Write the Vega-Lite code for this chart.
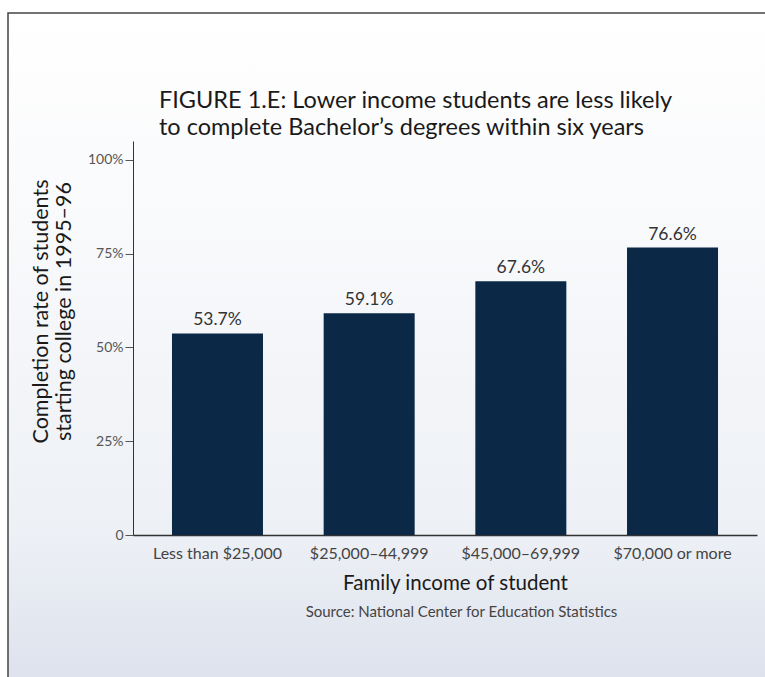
{
  "$schema": "https://vega.github.io/schema/vega-lite/v6.json",
  "width": 760,
  "height": 667,
  "autosize": {"type": "none"},
  "padding": {"left": 8, "top": 13, "right": 0, "bottom": 0},
  "background": "#ffffff",
  "config": {
    "font": "Lato",
    "view": {
      "stroke": "#444444",
      "strokeWidth": 1.5,
      "fill": {
        "gradient": "linear",
        "x1": 0, "y1": 0, "x2": 0, "y2": 1,
        "stops": [
          {"offset": 0, "color": "#ffffff"},
          {"offset": 0.35, "color": "#f8f9fb"},
          {"offset": 0.78, "color": "#edf0f5"},
          {"offset": 1, "color": "#dde2ed"}
        ]
      }
    }
  },
  "title": {
    "text": ["FIGURE 1.E: Lower income students are less likely", "to complete Bachelor’s degrees within six years"],
    "anchor": "start",
    "frame": "group",
    "orient": "top",
    "offset": 0,
    "dx": 151,
    "dy": 145,
    "fontSize": 23.5,
    "fontWeight": "normal",
    "lineHeight": 27,
    "baseline": "alphabetic",
    "color": "#1a1a1a"
  },
  "data": {
    "values": [
      {"income": "Less than $25,000", "rate": 53.7, "label": "53.7%"},
      {"income": "$25,000–44,999", "rate": 59.1, "label": "59.1%"},
      {"income": "$45,000–69,999", "rate": 67.6, "label": "67.6%"},
      {"income": "$70,000 or more", "rate": 76.6, "label": "76.6%"}
    ]
  },
  "encoding": {
    "x": {
      "field": "income",
      "type": "nominal",
      "sort": null,
      "scale": {"range": [125, 749], "paddingInner": 0.4, "paddingOuter": 0.257}
    },
    "y": {
      "field": "rate",
      "type": "quantitative",
      "scale": {"domain": [0, 105], "range": [522, 128], "nice": false, "zero": true}
    }
  },
  "layer": [
    {
      "mark": {"type": "bar", "color": "#0b2946"},
      "encoding": {
        "x": {
          "field": "income",
          "type": "nominal",
          "sort": null,
          "axis": {
            "orient": "bottom",
            "offset": -145,
            "title": "Family income of student",
            "titleFontSize": 20.5,
            "titleFontWeight": "normal",
            "titleColor": "#1a1a1a",
            "titleX": 447,
            "titleY": 54,
            "titleBaseline": "alphabetic",
            "titleAnchor": null,
            "labelAngle": 0,
            "labelFontSize": 16,
            "labelColor": "#444444",
            "labelPadding": 10,
            "ticks": false,
            "domainColor": "#333333",
            "domainWidth": 1.5,
            "grid": false
          }
        },
        "y": {
          "field": "rate",
          "type": "quantitative",
          "axis": {
            "orient": "left",
            "offset": -125,
            "values": [0, 25, 50, 75, 100],
            "labelExpr": "datum.value == 0 ? '0' : datum.value + '%'",
            "labelFontSize": 14,
            "labelColor": "#555555",
            "labelPadding": 2,
            "tickSize": 8,
            "tickColor": "#555555",
            "domainColor": "#333333",
            "domainWidth": 1,
            "grid": false,
            "title": ["Completion rate of students", "starting college in 1995–96"],
            "titleFontSize": 21.5,
            "titleFontWeight": "normal",
            "titleColor": "#1a1a1a",
            "titleAngle": -90,
            "titleAlign": "center",
            "titleBaseline": "alphabetic",
            "titleLineHeight": 23,
            "titleX": -86,
            "titleY": 298,
            "titleAnchor": null
          }
        }
      }
    },
    {
      "mark": {"type": "text", "baseline": "alphabetic", "dy": -8, "fontSize": 17.5, "color": "#333333"},
      "encoding": {
        "x": {
          "field": "income",
          "type": "nominal",
          "sort": null,
          "axis": {
            "orient": "bottom",
            "offset": -145,
            "title": "Source: National Center for Education Statistics",
            "titleFontSize": 15,
            "titleFontWeight": "normal",
            "titleColor": "#444444",
            "titleX": 453,
            "titleY": 81,
            "titleBaseline": "alphabetic",
            "titleAnchor": null,
            "labels": false,
            "ticks": false,
            "domain": false,
            "grid": false
          }
        },
        "text": {"field": "label"}
      }
    }
  ],
  "resolve": {"axis": {"x": "independent"}}
}
